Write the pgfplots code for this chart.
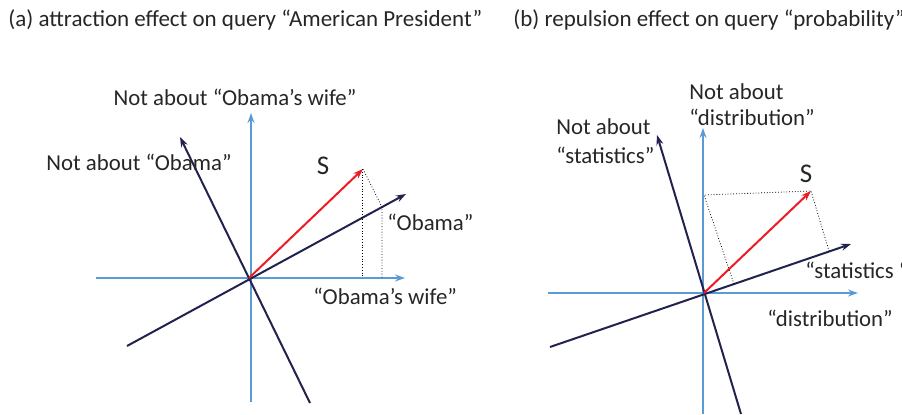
\documentclass[border=0pt]{standalone}
\usepackage{pgfplots}
\pgfplotsset{compat=1.18}
\usepackage{fontspec}
\setmainfont{Carlito}
\usetikzlibrary{arrows.meta}
\definecolor{axblue}{RGB}{91,155,213}
\definecolor{navy}{RGB}{34,34,80}
\definecolor{vred}{RGB}{237,28,36}
\definecolor{txt}{RGB}{38,38,38}
\tikzset{lbl/.style={font=\fontsize{11.4}{13}\selectfont, text=txt, inner sep=0pt},
  ttl/.style={font=\fontsize{11.5}{14}\selectfont, text=txt, inner sep=0pt, anchor=west},
  sl/.style={font=\fontsize{13.5}{15}\selectfont, text=txt, inner sep=0pt}}
\begin{document}
\begin{tikzpicture}
\begin{axis}[name=ax, x=0.5pt, y=0.5pt, xmin=0, xmax=902, ymin=0, ymax=414,
  scale only axis, hide axis, clip=false]
% panel (a)
\addplot[axblue, line width=1pt, -{Stealth[length=5pt,width=3.5pt]}] coordinates {(96,136) (405,136)};
\addplot[axblue, line width=1pt, -{Stealth[length=5pt,width=3.5pt]}] coordinates {(251,12) (251,301)};
\addplot[navy, line width=1pt, -{Stealth[length=5pt,width=3.5pt]}] coordinates {(310,11) (180,277)};
\addplot[navy, line width=1pt, -{Stealth[length=5pt,width=3.5pt]}] coordinates {(127,68) (406,220)};
\addplot[vred, line width=1pt, -{Stealth[length=5pt,width=3.5pt]}] coordinates {(249,136) (363,245)};
\addplot[black, line width=0.4pt, densely dotted] coordinates {(362,245) (362,136)};
\addplot[black, line width=0.4pt, densely dotted] coordinates {(363,245) (382,207) (382,136)};
% panel (b)
\addplot[axblue, line width=1pt, -{Stealth[length=5pt,width=3.5pt]}] coordinates {(548,121) (858,121)};
\addplot[axblue, line width=1pt, -{Stealth[length=5pt,width=3.5pt]}] coordinates {(703,0) (703,286)};
\addplot[navy, line width=1pt, -{Stealth[length=5pt,width=3.5pt]}] coordinates {(741,0) (657,279)};
\addplot[navy, line width=1pt, -{Stealth[length=5pt,width=3.5pt]}] coordinates {(550,67) (851,170)};
\addplot[vred, line width=1pt, -{Stealth[length=5pt,width=3.5pt]}] coordinates {(704,121) (811,223)};
\addplot[black, line width=0.4pt, densely dotted] coordinates {(734,130) (704,219) (811,223) (829,163)};
% titles
\node[ttl] at (axis cs:8,394) {(a) attraction effect on query “American President”};
\node[ttl] at (axis cs:513,394) {(b) repulsion effect on query “probability”};
% labels (a)
\node[lbl] at (axis cs:235,317) {Not about “Obama’s wife”};
\node[lbl, anchor=west] at (axis cs:46,252) {Not about “Obama”};
\node[sl] at (axis cs:323,248) {S};
\node[lbl, anchor=west] at (axis cs:387,192) {“Obama”};
\node[lbl, anchor=west] at (axis cs:313,118) {“Obama’s wife”};
% labels (b)
\node[lbl, anchor=west] at (axis cs:689,322) {Not about};
\node[lbl, anchor=west] at (axis cs:689,297) {“distribution”};
\node[lbl, anchor=west] at (axis cs:556,287) {Not about};
\node[lbl, anchor=west] at (axis cs:556,259) {“statistics”};
\node[sl] at (axis cs:806,240) {S};
\node[lbl, anchor=west] at (axis cs:805,144) {“statistics “};
\node[lbl, anchor=west] at (axis cs:767,96) {“distribution”};
\end{axis}
\pgfresetboundingbox
\path (ax.south west) rectangle (ax.north east);
\end{tikzpicture}
\end{document}
